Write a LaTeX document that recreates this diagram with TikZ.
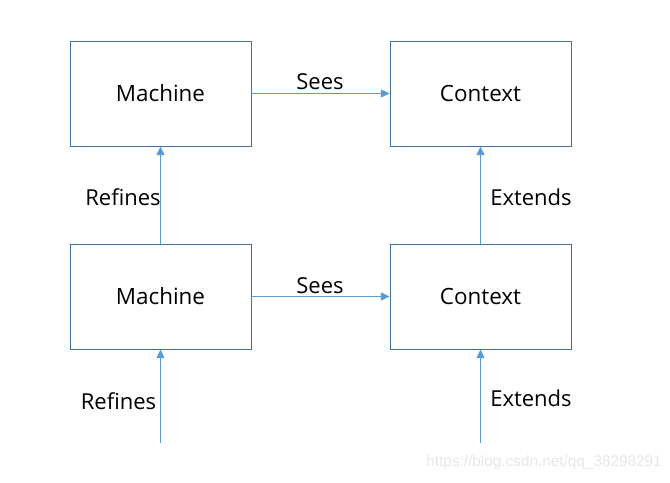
\documentclass[tikz,border=0pt]{standalone}
\usepackage{fontspec}
\setmainfont{Open Sans}
\newfontfamily\wmfont{Liberation Sans}
\usetikzlibrary{arrows.meta}
\definecolor{boxcol}{HTML}{41719C}
\definecolor{arrcol}{HTML}{5B9BD5}
\definecolor{wmcol}{HTML}{E6E6E6}
\tikzset{
  box/.style={draw=boxcol, line width=0.6pt, minimum width=181*0.75pt, minimum height=105*0.75pt, inner sep=0pt, font=\fontsize{16.8}{18}\selectfont},
  conn/.style={draw=arrcol, line width=0.7pt, -{Triangle[width=6pt,length=6.5pt]}},
  lbl/.style={font=\fontsize{16.5}{18}\selectfont, inner sep=0pt},
}
\begin{document}
\begin{tikzpicture}[x=0.75pt,y=-0.75pt]
\useasboundingbox (0,0) rectangle (670,482);
\node[box] (m1) at (160.5,93.5) {Machine};
\node[box] (c1) at (480.5,93.5) {Context};
\node[box] (m2) at (160.5,296.5) {Machine};
\node[box] (c2) at (480.5,296.5) {Context};
\coordinate (r0) at (160.5,443);
\coordinate (e0) at (480.5,443);
\draw[conn] (m1.east) -- (c1.west);
\draw[conn] (m2.east) -- (c2.west);
\draw[conn] (m2.north) -- (m1.south);
\draw[conn] (c2.north) -- (c1.south);
\draw[conn] (r0) -- (m2.south);
\draw[conn] (e0) -- (c2.south);
\node[lbl] (s1) at (320,82) {Sees};
\node[lbl] (s2) at (320,286) {Sees};
\node[lbl] (rf1) at (123,197) {Refines};
\node[lbl] (rf2) at (118.5,401) {Refines};
\node[lbl] (ex1) at (531,197) {Extends};
\node[lbl] (ex2) at (531,398) {Extends};
\node[font=\wmfont\fontsize{11.5}{13}\selectfont, text=wmcol, anchor=east, inner sep=0pt] (wm) at (662,463) {https://blog.csdn.net/qq\_38298291};
\end{tikzpicture}
\end{document}
